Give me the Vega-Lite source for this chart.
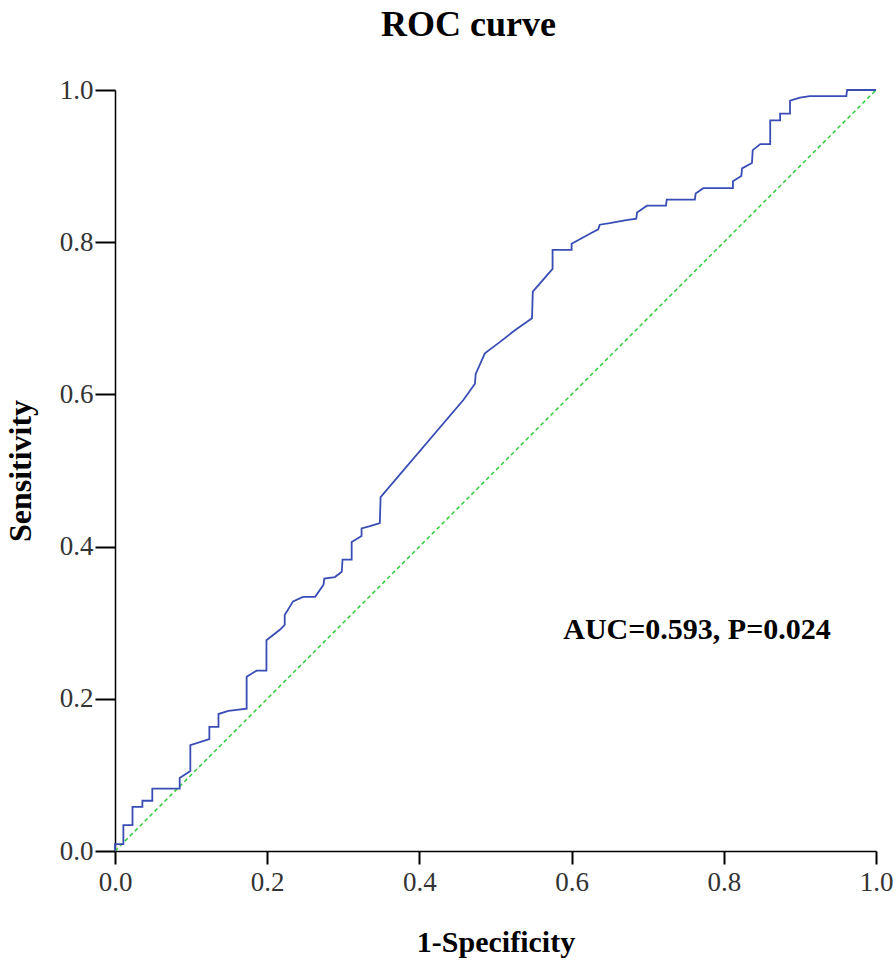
{
  "$schema": "https://vega.github.io/schema/vega-lite/v6.json",
  "width": 761,
  "height": 761,
  "autosize": {"type": "none"},
  "padding": {"left": 115, "top": 90, "right": 20, "bottom": 117},
  "background": "white",
  "config": {
    "view": {"stroke": null},
    "font": "Liberation Serif"
  },
  "title": {
    "text": "ROC curve",
    "font": "Liberation Serif",
    "fontSize": 36,
    "fontWeight": "bold",
    "color": "black",
    "anchor": "middle",
    "dx": -27,
    "offset": 32
  },
  "datasets": {
    "roc": [
      {"o": 0, "fpr": 0, "sens": 0},
      {"o": 1, "fpr": 0, "sens": 0.009},
      {"o": 2, "fpr": 0.011, "sens": 0.009},
      {"o": 3, "fpr": 0.011, "sens": 0.034},
      {"o": 4, "fpr": 0.023, "sens": 0.034},
      {"o": 5, "fpr": 0.023, "sens": 0.058},
      {"o": 6, "fpr": 0.036, "sens": 0.058},
      {"o": 7, "fpr": 0.036, "sens": 0.066},
      {"o": 8, "fpr": 0.049, "sens": 0.066},
      {"o": 9, "fpr": 0.049, "sens": 0.082},
      {"o": 10, "fpr": 0.085, "sens": 0.082},
      {"o": 11, "fpr": 0.085, "sens": 0.096},
      {"o": 12, "fpr": 0.099, "sens": 0.105},
      {"o": 13, "fpr": 0.099, "sens": 0.139},
      {"o": 14, "fpr": 0.124, "sens": 0.147},
      {"o": 15, "fpr": 0.124, "sens": 0.163},
      {"o": 16, "fpr": 0.136, "sens": 0.163},
      {"o": 17, "fpr": 0.136, "sens": 0.180},
      {"o": 18, "fpr": 0.149, "sens": 0.184},
      {"o": 19, "fpr": 0.173, "sens": 0.187},
      {"o": 20, "fpr": 0.173, "sens": 0.229},
      {"o": 21, "fpr": 0.186, "sens": 0.237},
      {"o": 22, "fpr": 0.199, "sens": 0.237},
      {"o": 23, "fpr": 0.199, "sens": 0.277},
      {"o": 24, "fpr": 0.217, "sens": 0.291},
      {"o": 25, "fpr": 0.223, "sens": 0.297},
      {"o": 26, "fpr": 0.223, "sens": 0.310},
      {"o": 27, "fpr": 0.234, "sens": 0.328},
      {"o": 28, "fpr": 0.247, "sens": 0.334},
      {"o": 29, "fpr": 0.263, "sens": 0.334},
      {"o": 30, "fpr": 0.274, "sens": 0.350},
      {"o": 31, "fpr": 0.275, "sens": 0.358},
      {"o": 32, "fpr": 0.289, "sens": 0.360},
      {"o": 33, "fpr": 0.298, "sens": 0.367},
      {"o": 34, "fpr": 0.299, "sens": 0.383},
      {"o": 35, "fpr": 0.311, "sens": 0.383},
      {"o": 36, "fpr": 0.311, "sens": 0.406},
      {"o": 37, "fpr": 0.324, "sens": 0.414},
      {"o": 38, "fpr": 0.324, "sens": 0.424},
      {"o": 39, "fpr": 0.335, "sens": 0.427},
      {"o": 40, "fpr": 0.348, "sens": 0.431},
      {"o": 41, "fpr": 0.349, "sens": 0.465},
      {"o": 42, "fpr": 0.458, "sens": 0.593},
      {"o": 43, "fpr": 0.473, "sens": 0.614},
      {"o": 44, "fpr": 0.474, "sens": 0.627},
      {"o": 45, "fpr": 0.486, "sens": 0.654},
      {"o": 46, "fpr": 0.506, "sens": 0.669},
      {"o": 47, "fpr": 0.525, "sens": 0.684},
      {"o": 48, "fpr": 0.548, "sens": 0.700},
      {"o": 49, "fpr": 0.549, "sens": 0.735},
      {"o": 50, "fpr": 0.575, "sens": 0.765},
      {"o": 51, "fpr": 0.575, "sens": 0.790},
      {"o": 52, "fpr": 0.600, "sens": 0.790},
      {"o": 53, "fpr": 0.600, "sens": 0.798},
      {"o": 54, "fpr": 0.624, "sens": 0.811},
      {"o": 55, "fpr": 0.635, "sens": 0.817},
      {"o": 56, "fpr": 0.637, "sens": 0.823},
      {"o": 57, "fpr": 0.650, "sens": 0.825},
      {"o": 58, "fpr": 0.672, "sens": 0.829},
      {"o": 59, "fpr": 0.685, "sens": 0.831},
      {"o": 60, "fpr": 0.686, "sens": 0.839},
      {"o": 61, "fpr": 0.699, "sens": 0.848},
      {"o": 62, "fpr": 0.724, "sens": 0.848},
      {"o": 63, "fpr": 0.725, "sens": 0.856},
      {"o": 64, "fpr": 0.762, "sens": 0.856},
      {"o": 65, "fpr": 0.763, "sens": 0.864},
      {"o": 66, "fpr": 0.773, "sens": 0.871},
      {"o": 67, "fpr": 0.812, "sens": 0.871},
      {"o": 68, "fpr": 0.812, "sens": 0.880},
      {"o": 69, "fpr": 0.823, "sens": 0.887},
      {"o": 70, "fpr": 0.824, "sens": 0.897},
      {"o": 71, "fpr": 0.837, "sens": 0.904},
      {"o": 72, "fpr": 0.838, "sens": 0.921},
      {"o": 73, "fpr": 0.848, "sens": 0.929},
      {"o": 74, "fpr": 0.861, "sens": 0.929},
      {"o": 75, "fpr": 0.861, "sens": 0.960},
      {"o": 76, "fpr": 0.874, "sens": 0.960},
      {"o": 77, "fpr": 0.874, "sens": 0.969},
      {"o": 78, "fpr": 0.887, "sens": 0.969},
      {"o": 79, "fpr": 0.887, "sens": 0.986},
      {"o": 80, "fpr": 0.900, "sens": 0.990},
      {"o": 81, "fpr": 0.913, "sens": 0.992},
      {"o": 82, "fpr": 0.961, "sens": 0.992},
      {"o": 83, "fpr": 0.962, "sens": 1.0},
      {"o": 84, "fpr": 1.0, "sens": 1.0}
    ],
    "diag": [
      {"fpr": 0, "sens": 0},
      {"fpr": 1, "sens": 1}
    ],
    "note": [
      {"fpr": 0.589, "sens": 0.29, "label": "AUC=0.593, P=0.024"}
    ]
  },
  "layer": [
    {
      "data": {"name": "diag"},
      "mark": {"type": "line", "color": "#2fcc3a", "strokeWidth": 1.5, "strokeDash": [4, 3]},
      "encoding": {
        "x": {
          "field": "fpr", "type": "quantitative",
          "scale": {"domain": [0, 1], "nice": false, "zero": true},
          "axis": {
            "title": "1-Specificity",
            "titleFont": "Liberation Serif",
            "titleFontSize": 30,
            "titleFontWeight": "bold",
            "titleColor": "black",
            "titlePadding": 32,
            "values": [0, 0.2, 0.4, 0.6, 0.8, 1.0],
            "format": ".1f",
            "labelFont": "Liberation Serif",
            "labelFontSize": 27,
            "labelColor": "#333",
            "labelPadding": 5,
            "labelFlush": false,
            "tickSize": 13,
            "tickWidth": 2,
            "tickColor": "black",
            "domainColor": "black",
            "domainWidth": 1.5,
            "grid": false
          }
        },
        "y": {
          "field": "sens", "type": "quantitative",
          "scale": {"domain": [0, 1], "nice": false, "zero": true},
          "axis": {
            "title": "Sensitivity",
            "titleFont": "Liberation Serif",
            "titleFontSize": 32,
            "titleFontWeight": "bold",
            "titleColor": "black",
            "titlePadding": 22,
            "values": [0, 0.2, 0.4, 0.6, 0.8, 1.0],
            "format": ".1f",
            "labelFont": "Liberation Serif",
            "labelFontSize": 27,
            "labelColor": "#333",
            "labelPadding": 2,
            "labelFlush": false,
            "tickSize": 20,
            "tickWidth": 2,
            "tickColor": "black",
            "domainColor": "black",
            "domainWidth": 1.5,
            "grid": false
          }
        }
      }
    },
    {
      "data": {"name": "roc"},
      "mark": {"type": "line", "color": "#3a4db5", "strokeWidth": 1.8},
      "encoding": {
        "x": {"field": "fpr", "type": "quantitative"},
        "y": {"field": "sens", "type": "quantitative"},
        "order": {"field": "o", "type": "quantitative"}
      }
    },
    {
      "data": {"name": "note"},
      "mark": {"type": "text", "align": "left", "baseline": "middle", "font": "Liberation Serif", "fontSize": 30, "fontWeight": "bold", "color": "black"},
      "encoding": {
        "x": {"field": "fpr", "type": "quantitative"},
        "y": {"field": "sens", "type": "quantitative"},
        "text": {"field": "label"}
      }
    }
  ]
}
